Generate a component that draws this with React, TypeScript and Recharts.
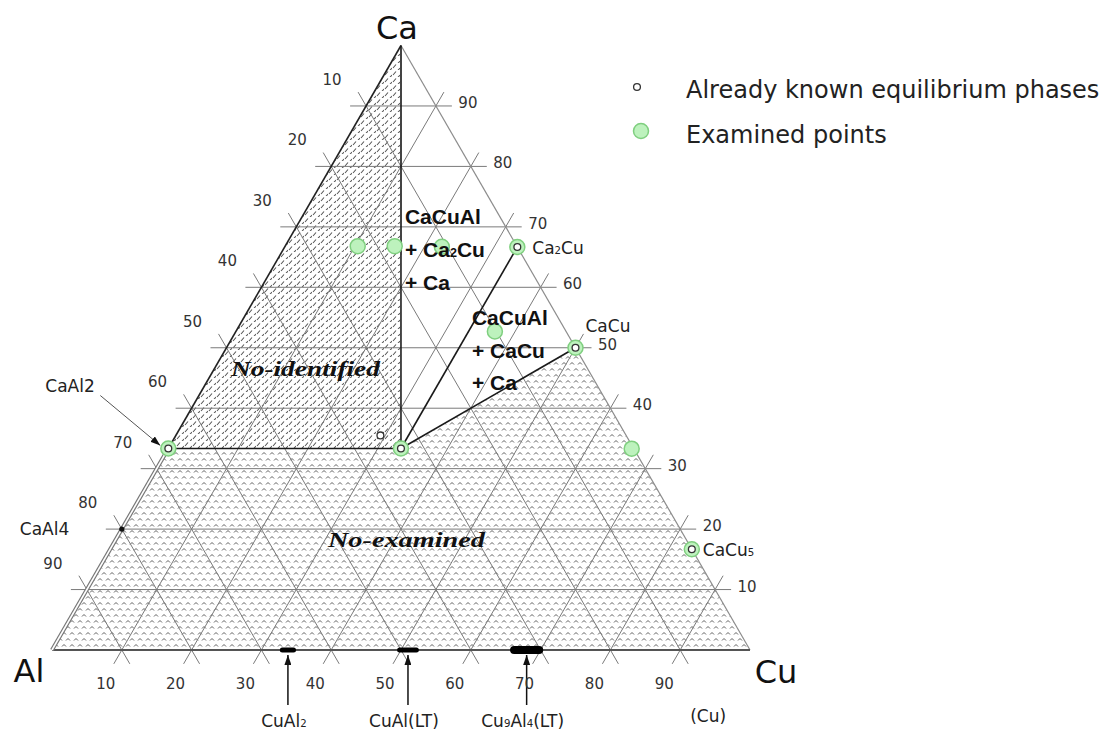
import { ComposedChart, XAxis, YAxis, Area, Scatter, ReferenceLine } from 'recharts';

// Ca-Cu-Al isothermal section. Compositions in at.% (Ca, Cu), Al is the balance.
const GRID_STEPS = [10, 20, 30, 40, 50, 60, 70, 80, 90];

// already known equilibrium phases
const PHASE_NAMES = ['Ca2Cu', 'CaCu', 'CaCuAl', 'CaAl2', 'CaCu5', 'x'];
const PHASE_CA = [66.67, 50, 33.33, 33.33, 16.67, 35.5];
const PHASE_CU = [33.33, 50, 33.33, 0, 83.33, 29.3];

// examined alloys
const EXAMINED_CA = [66.8, 66.8, 66.7, 66.67, 52.7, 50, 33.3, 33.33, 33.33, 16.67];
const EXAMINED_CU = [10.4, 15.7, 22.5, 33.33, 37.1, 50, 66.4, 33.33, 0, 83.33];

// homogeneity ranges on the Al-Cu side (at.% Cu)
const RANGE_NAMES = ['CuAl_2', 'CuAl(LT)', 'Cu_9Al_4(LT)'];
const RANGE_FROM = [33.0, 49.8, 66.2];
const RANGE_TO = [34.6, 52.2, 69.8];

// three-phase tie triangles
const TIE_LINES = [
  ['Ca', 'CaCuAl'],
  ['CaAl2', 'CaCuAl'],
  ['CaCuAl', 'Ca2Cu'],
  ['CaCuAl', 'CaCu'],
];
const NO_IDENTIFIED = ['CaAl2', 'Ca'];
const NO_EXAMINED = ['Al', 'CaAl2', 'CaCuAl', 'CaCu', 'Cu'];

// ---- layout ----
const W = 1106;
const H = 735;
const SIDE = 698;
const ORIGIN = { x: 52, y: 650 };
const SQ = Math.sqrt(3) / 2;
const X_DOMAIN = [-ORIGIN.x / SIDE, (W - ORIGIN.x) / SIDE];
const Y_DOMAIN = [(ORIGIN.y - H) / SIDE, ORIGIN.y / SIDE];
const EXT = 16 / SIDE;

const SANS = '"DejaVu Sans", Arial, sans-serif';
const ARIAL = '"Liberation Sans", Arial, sans-serif';
const SERIF = '"Liberation Serif", "Times New Roman", serif';

const pt = (ca: number, cu: number) => ({ x: cu / 100 + ca / 200, y: (ca / 100) * SQ });
const off = (p: { x: number; y: number }, dx: number, dy: number) => ({ x: p.x + dx / SIDE, y: p.y - dy / SIDE });

const P: Record<string, { x: number; y: number }> = {
  Ca: pt(100, 0),
  Al: pt(0, 0),
  Cu: pt(0, 100),
  CaAl4: pt(20, 0),
};
PHASE_NAMES.forEach((n, i) => (P[n] = pt(PHASE_CA[i], PHASE_CU[i])));

function extend(a: { x: number; y: number }, b: { x: number; y: number }) {
  const dx = b.x - a.x;
  const dy = b.y - a.y;
  const l = Math.hypot(dx, dy);
  return [
    { x: a.x - (dx / l) * EXT, y: a.y - (dy / l) * EXT },
    { x: b.x + (dx / l) * EXT, y: b.y + (dy / l) * EXT },
  ];
}

const gridSegs = GRID_STEPS.flatMap((t) => [
  extend(pt(t, 0), pt(t, 100 - t)),
  extend(pt(0, t), pt(100 - t, t)),
  extend(pt(0, 100 - t), pt(100 - t, 0)),
]);

const knownData = PHASE_NAMES.map((n) => ({ ...P[n], name: n }));
const examinedData = EXAMINED_CA.map((ca, i) => pt(ca, EXAMINED_CU[i]));

const noIdentifiedData = [
  { x: P[NO_IDENTIFIED[0]].x, r: [P.CaAl2.y, P.CaAl2.y] },
  { x: P[NO_IDENTIFIED[1]].x, r: [P.CaCuAl.y, P.Ca.y] },
];
const noExaminedData = NO_EXAMINED.map((n) => ({ x: P[n].x, r: [0, P[n].y] }));

const TEXT_KINDS: Record<string, any> = {
  vertex: { fontFamily: SANS, fontSize: 32, fill: '#111' },
  tick: { fontFamily: SANS, fontSize: 15, fill: '#333' },
  phase: { fontFamily: SANS, fontSize: 17, fill: '#222' },
  field: { fontFamily: ARIAL, fontSize: 21, fontWeight: 700, fill: '#111' },
  region: { fontFamily: SERIF, fontSize: 22, fontWeight: 700, fontStyle: 'italic', fill: '#111' },
};

const tickLabels = [
  ...GRID_STEPS.map((t) => ({ ...pt(100 - t, 0), text: String(t), dx: -34, dy: -21 })),
  ...GRID_STEPS.map((t) => ({ ...pt(t, 100 - t), text: String(t), dx: 32, dy: 2 })),
  ...GRID_STEPS.map((t) => ({ ...pt(0, t), text: String(t), dx: -16, dy: 39 })),
].map((l) => ({ ...l, kind: 'tick', anchor: 'middle' }));

const rangeMid = RANGE_FROM.map((f, i) => pt(0, (f + RANGE_TO[i]) / 2));

const annotations = [
  { ...P.Ca, text: 'Ca', dx: -4, dy: -7, kind: 'vertex', anchor: 'middle' },
  { ...P.Al, text: 'Al', dx: -23, dy: 32, kind: 'vertex', anchor: 'middle' },
  { ...P.Cu, text: 'Cu', dx: 26, dy: 33, kind: 'vertex', anchor: 'middle' },
  { ...P.Ca2Cu, text: 'Ca_2Cu', dx: 15, dy: 7, kind: 'phase' },
  { ...P.CaCu, text: 'CaCu', dx: 10, dy: -16, kind: 'phase' },
  { ...P.CaCu5, text: 'CaCu_5', dx: 11, dy: 7, kind: 'phase' },
  { ...P.CaAl2, text: 'CaAl2', dx: -123, dy: -57, kind: 'phase' },
  { ...P.CaAl4, text: 'CaAl4', dx: -102, dy: 6, kind: 'phase' },
  ...RANGE_NAMES.map((n, i) => ({ ...rangeMid[i], text: n, dx: -4, dy: 77, kind: 'phase', anchor: 'middle' })),
  { ...pt(0, 94), text: '(Cu)', dx: 0, dy: 72, kind: 'phase', anchor: 'middle' },
  { ...P.CaCuAl, text: 'CaCuAl', dx: 4, dy: -225, kind: 'field' },
  { ...P.CaCuAl, text: '+ Ca_2Cu', dx: 4, dy: -192, kind: 'field' },
  { ...P.CaCuAl, text: '+ Ca', dx: 4, dy: -159, kind: 'field' },
  { ...P.CaCuAl, text: 'CaCuAl', dx: 71, dy: -124, kind: 'field' },
  { ...P.CaCuAl, text: '+ CaCu', dx: 71, dy: -91, kind: 'field' },
  { ...P.CaCuAl, text: '+ Ca', dx: 71, dy: -59, kind: 'field' },
  { ...P.CaCuAl, text: 'No-identified', dx: -170, dy: -73, kind: 'region', len: 149 },
  { ...P.CaCuAl, text: 'No-examined', dx: -73, dy: 98, kind: 'region', len: 157 },
];

const arrows = [
  [off(P.CaAl2, -68, -53), off(P.CaAl2, -8, -3)],
  ...rangeMid.map((m) => [off(m, 0, 55), off(m, 0, 5)]),
];

const TextMark = (props: any) => {
  const { cx, cy, payload } = props;
  const st = TEXT_KINDS[payload.kind];
  const parts = String(payload.text).split(/(_.)/).filter(Boolean);
  return (
    <text
      x={cx + payload.dx}
      y={cy + payload.dy}
      textAnchor={payload.anchor ?? 'start'}
      textLength={payload.len}
      lengthAdjust={payload.len ? 'spacingAndGlyphs' : undefined}
      {...st}
    >
      {parts.map((p, i) =>
        p.startsWith('_') ? (
          <tspan key={i} fontSize="0.6em">
            {p.slice(1)}
          </tspan>
        ) : (
          <tspan key={i}>{p}</tspan>
        )
      )}
    </text>
  );
};

const ExaminedMark = (props: any) => (
  <circle cx={props.cx} cy={props.cy} r={7.5} fill="#bdf2bd" stroke="#7fcf7f" strokeWidth={1.5} />
);
const KnownMark = (props: any) => (
  <circle cx={props.cx} cy={props.cy} r={3.4} fill="#fff" stroke="#333" strokeWidth={1.3} />
);
const DotMark = (props: any) => <circle cx={props.cx} cy={props.cy} r={2.6} fill="#111" />;

export default function App() {
  return (
    <div style={{ position: 'absolute', left: 0, top: 0, width: W, height: H, background: '#fff' }}>
      <svg width={0} height={0} style={{ position: 'absolute' }}>
        <defs>
          <pattern id="hatchId" patternUnits="userSpaceOnUse" width={8} height={7}>
            <path d="M1 5 L4 1.5 M5 8.5 L8 5" stroke="#555" strokeWidth={1.1} fill="none" />
          </pattern>
          <pattern id="hatchEx" patternUnits="userSpaceOnUse" width={8} height={12}>
            <path
              d="M2 4.5 L4 2.5 L6 4.5 M-2 10.5 L0 8.5 L2 10.5 M6 10.5 L8 8.5 L10 10.5"
              stroke="#5e5e5e"
              strokeWidth={1}
              fill="none"
            />
          </pattern>
          <marker id="arrowHead" viewBox="0 0 10 7" refX={10} refY={3.5} markerWidth={10} markerHeight={7} markerUnits="userSpaceOnUse" orient="auto">
            <path d="M0 0 L10 3.5 L0 7 z" fill="#111" />
          </marker>
        </defs>
      </svg>

      <ComposedChart width={W} height={H} margin={{ top: 0, right: 0, bottom: 0, left: 0 }}>
        <XAxis type="number" dataKey="x" domain={X_DOMAIN} allowDataOverflow hide />
        <YAxis type="number" dataKey="y" domain={Y_DOMAIN} allowDataOverflow hide />

        <Area data={noExaminedData} dataKey="r" type="linear" stroke="none" fill="url(#hatchEx)" fillOpacity={1} dot={false} activeDot={false} isAnimationActive={false} />
        <Area data={noIdentifiedData} dataKey="r" type="linear" stroke="none" fill="url(#hatchId)" fillOpacity={1} dot={false} activeDot={false} isAnimationActive={false} />

        {gridSegs.map((s, i) => (
          <ReferenceLine key={`g${i}`} segment={s} stroke="#7a7a7a" strokeWidth={1} ifOverflow="visible" />
        ))}

        {/* triangle edges */}
        <ReferenceLine segment={[P.Ca, P.Cu]} stroke="#8c8c8c" strokeWidth={1.2} ifOverflow="visible" />
        <ReferenceLine segment={[P.Al, P.Cu]} stroke="#555" strokeWidth={2} ifOverflow="visible" />
        <ReferenceLine segment={[P.Al, P.CaAl2]} stroke="#777" strokeWidth={4} ifOverflow="visible" />
        <ReferenceLine segment={[P.Al, P.CaAl2]} stroke="#fff" strokeWidth={1.6} ifOverflow="visible" />
        <ReferenceLine segment={[P.CaAl2, P.Ca]} stroke="#222" strokeWidth={1.6} ifOverflow="visible" />

        {TIE_LINES.map(([a, b], i) => (
          <ReferenceLine key={`t${i}`} segment={[P[a], P[b]]} stroke="#1a1a1a" strokeWidth={1.6} ifOverflow="visible" />
        ))}

        {RANGE_FROM.map((f, i) => (
          <ReferenceLine
            key={`r${i}`}
            segment={[pt(0, f), pt(0, RANGE_TO[i])]}
            stroke="#000"
            strokeWidth={i === 2 ? 8 : 5}
            strokeLinecap="round"
            ifOverflow="visible"
          />
        ))}

        {arrows.map((s, i) => (
          <ReferenceLine
            key={`a${i}`}
            segment={s}
            stroke={i === 0 ? '#555' : '#111'}
            strokeWidth={i === 0 ? 1 : 1.5}
            markerEnd="url(#arrowHead)"
            ifOverflow="visible"
          />
        ))}

        <Scatter data={examinedData} shape={ExaminedMark} isAnimationActive={false} />
        <Scatter data={knownData} shape={KnownMark} isAnimationActive={false} />
        <Scatter data={[P.CaAl4]} shape={DotMark} isAnimationActive={false} />
        <Scatter data={tickLabels} shape={TextMark} isAnimationActive={false} />
        <Scatter data={annotations} shape={TextMark} isAnimationActive={false} />
      </ComposedChart>

      <svg width={W} height={170} style={{ position: 'absolute', left: 0, top: 0, pointerEvents: 'none' }}>
        <circle cx={637} cy={87} r={3.4} fill="#fff" stroke="#333" strokeWidth={1.3} />
        <circle cx={641} cy={131} r={7.5} fill="#bdf2bd" stroke="#7fcf7f" strokeWidth={1.5} />
        <text x={686} y={98} fontFamily={SANS} fontSize={24} fill="#222">
          Already known equilibrium phases
        </text>
        <text x={686} y={143} fontFamily={SANS} fontSize={24} fill="#222">
          Examined points
        </text>
      </svg>
    </div>
  );
}
